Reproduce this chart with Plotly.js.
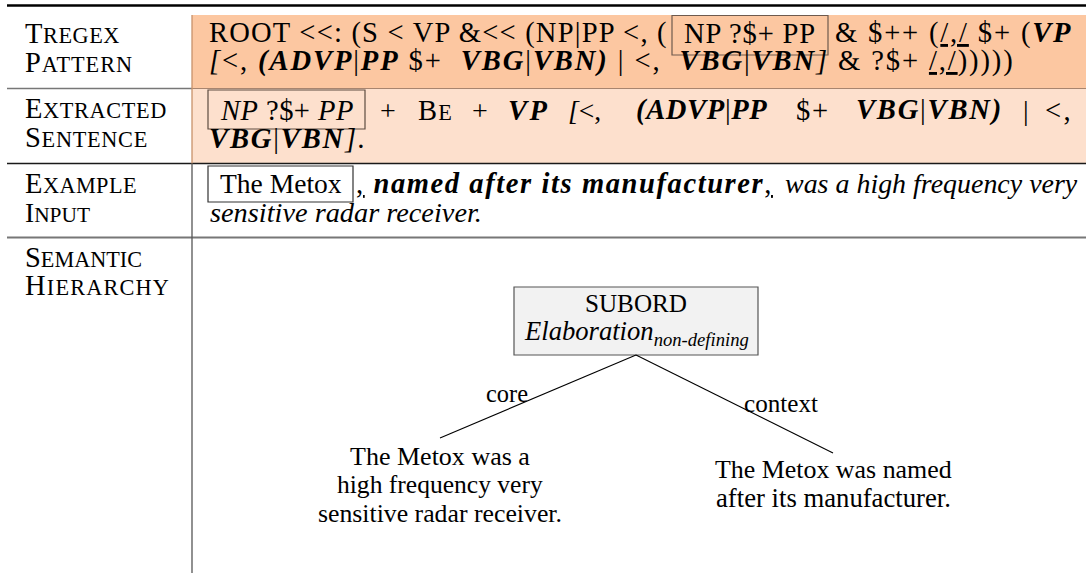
<!DOCTYPE html>
<html>
<head>
<meta charset="utf-8">
<script src="https://cdn.plot.ly/plotly-3.0.1.min.js"></script>
<style>
html,body{margin:0;padding:0;background:#ffffff;overflow:hidden;}
#chart{width:1086px;height:576px;}
</style>
</head>
<body>
<div id="chart"></div>
<script>
// ---------------- content (text of the table / tree) ----------------
const rowLabels = [["Tregex", "Pattern"], ["Extracted", "Sentence"], ["Example", "Input"], ["Semantic", "Hierarchy"]];

const patternLine1 = [
  "ROOT &lt;&lt;: (S &lt; VP &amp;&lt;&lt; (NP|PP &lt;, (",
  "NP ?$+ PP",
  "&amp; $++ (<u>/,/</u> $+ (<b><i>VP</i></b>"
];
const patternLine2 = "<i>[</i>&lt;, <b><i>(ADVP</i></b>|<b><i>PP</i></b> $+&nbsp; <b><i>VBG</i></b>|<b><i>VBN)</i></b> | &lt;,&nbsp; <b><i>VBG</i></b>|<b><i>VBN</i></b><i>]</i> &amp; ?$+ <u>/,/</u>)))))";

const extractedBox = "<i>NP</i> ?$+ <i>PP</i>";
const extractedLine1 = [
  "+", "B<span style=\"font-size:78%\">E</span>", "+", "<b><i>VP</i></b>", "<i>[</i>&lt;,",
  "<b><i>(ADVP</i></b>|<b><i>PP</i></b>", "$+", "<b><i>VBG</i></b>|<b><i>VBN)</i></b>", "|", "&lt;,"
];
const extractedLine2 = "<b><i>VBG</i></b>|<b><i>VBN</i></b><i>].</i>";

const exampleBox = "The Metox";
const exampleLine1 = ["<u>,</u> <b><i>named after its manufacturer</i></b><u>,</u>", "<i>was a high frequency very</i>"];
const exampleLine2 = "<i>sensitive radar receiver.</i>";

const treeRoot = ["SUBORD", "<i>Elaboration</i><sub><i>non-defining</i></sub>"];
const treeEdgeLabels = ["core", "context"];
const treeLeaves = [
  ["The Metox was a", "high frequency very", "sensitive radar receiver."],
  ["The Metox was named", "after its manufacturer."]
];

// ---------------- geometry / style (layout constants) ----------------
const FONT = "Liberation Serif, Times New Roman, serif";
const S0 = 25.5;

const labelX = 25;
const labelBase = [[43, 72], [118, 147], [193, 222], [267, 295]];
const labelW = [[95, 108], [142, 123], [112, 65], [117, 145]];

const p1X = [209, 750, 835], p1W = [459, 132, 238], p1A = ["left", "center", "left"];
const e1X = [380, 418, 472, 508, 568, 636, 796, 856, 1023, 1045];
const e1W = [0, 35, 0, 42, 0, 132, 34, 147, 0, 28];
const e1S = [28, 25.5, 28, 25.5, 27.5, 25.5, 25.5, 25.5, 28, 25.5];
const x1X = [356, 785], x1W = [417, 293];
const leafX = [440, 833];
const leafBase = [[465, 493, 522], [478, 507]];
const leafW = [[180, 206, 244], [237, 235]];

function smallCaps(word) {
  return word.charAt(0).toUpperCase() +
    '<span style="font-size:78%">' + word.slice(1).toUpperCase() + '</span>';
}

// ---------------- build text segments ----------------
const segs = [];
rowLabels.forEach(function (words, r) {
  words.forEach(function (w, l) {
    segs.push({t: smallCaps(w), x: labelX, base: labelBase[r][l], w: labelW[r][l], a: "left"});
  });
});
patternLine1.forEach(function (t, i) {
  segs.push({t: t, x: p1X[i], base: 43, w: p1W[i], a: p1A[i]});
});
segs.push({t: patternLine2, x: 209, base: 71, w: 806, a: "left"});
segs.push({t: extractedBox, x: 286.5, base: 120, w: 134, a: "center"});
extractedLine1.forEach(function (t, i) {
  segs.push({t: t, x: e1X[i], base: 120, w: e1W[i], a: "left", s: e1S[i]});
});
segs.push({t: extractedLine2, x: 209, base: 148, w: 158, a: "left"});
segs.push({t: exampleBox, x: 280.5, base: 193, w: 122, a: "center"});
exampleLine1.forEach(function (t, i) {
  segs.push({t: t, x: x1X[i], base: 193, w: x1W[i], a: "left"});
});
segs.push({t: exampleLine2, x: 210, base: 222, w: 272, a: "left"});
segs.push({t: treeRoot[0], x: 636, base: 312, w: 102, a: "center"});
segs.push({t: treeRoot[1], x: 636, base: 340, w: 225, a: "center", sub: true});
segs.push({t: treeEdgeLabels[0], x: 507, base: 402, w: 42, a: "center"});
segs.push({t: treeEdgeLabels[1], x: 781, base: 412, w: 74, a: "center"});
treeLeaves.forEach(function (lines, k) {
  lines.forEach(function (t, j) {
    segs.push({t: t, x: leafX[k], base: leafBase[k][j], w: leafW[k][j], a: "center"});
  });
});

function yFor(s, size) {
  return s.base - 0.3375 * size + (s.sub ? 0.072 * size : 0);
}

const annotations = segs.map(function (s) {
  const size = s.s || S0;
  return {
    xref: "x", yref: "y", x: s.x, y: yFor(s, size),
    xanchor: s.a, yanchor: "middle",
    text: s.t, showarrow: false,
    font: {family: FONT, size: size, color: "#000000"},
    borderpad: 0, borderwidth: 0
  };
});

// ---------------- shapes ----------------
function rect(x0, x1, y0, y1, fill, line, lw, layer) {
  return {type: "rect", xref: "x", yref: "y", x0: x0, x1: x1, y0: y0, y1: y1,
    fillcolor: fill, line: {color: line, width: lw}, layer: layer || "below"};
}
function seg(x0, y0, x1, y1, color, w) {
  return {type: "line", xref: "x", yref: "y", x0: x0, y0: y0, x1: x1, y1: y1,
    line: {color: color, width: w}, layer: "above"};
}
const shapes = [
  rect(192, 1086, 15, 88.5, "#FCC7A1", "rgba(0,0,0,0)", 0),
  rect(192, 1086, 88.5, 163.5, "#FDE0CD", "rgba(0,0,0,0)", 0),
  rect(514, 758, 287, 355, "#F2F2F2", "#555555", 1.2),
  rect(672, 828, 15.5, 55, "rgba(0,0,0,0)", "#6E5A4E", 1.2, "above"),
  rect(208, 365, 90, 129, "rgba(0,0,0,0)", "#5E4C42", 1.2, "above"),
  rect(208, 353, 166, 202, "rgba(0,0,0,0)", "#333333", 1.2, "above"),
  seg(7, 5.5, 1086, 5.5, "#000000", 2.6),
  seg(7, 88.5, 192, 88.5, "#777777", 1.3),
  seg(192, 88.5, 1086, 88.5, "#A8856F", 1.2),
  seg(7, 163.5, 1086, 163.5, "#1A1A1A", 1.3),
  seg(7, 237.5, 1086, 237.5, "#777777", 2),
  seg(192, 15, 192, 163.5, "#C8916A", 1.3),
  seg(192, 163.5, 192, 573, "#555555", 1.3),
  seg(636, 355, 440, 438, "#000000", 1.1),
  seg(636, 355, 833, 453, "#000000", 1.1)
];

const layout = {
  width: 1086, height: 576,
  margin: {l: 0, r: 0, t: 0, b: 0, pad: 0},
  paper_bgcolor: "#ffffff", plot_bgcolor: "#ffffff",
  showlegend: false,
  xaxis: {range: [0, 1086], visible: false, fixedrange: true},
  yaxis: {range: [576, 0], visible: false, fixedrange: true},
  shapes: shapes,
  annotations: annotations
};

function plainLen(t) {
  return t.replace(/<[^>]*>/g, "").replace(/&[a-z]+;/g, "x").length;
}

const gd = document.getElementById("chart");
Plotly.newPlot(gd, [], layout, {staticPlot: true, displayModeBar: false}).then(function () {
  const upd = {};
  const groups = gd.querySelectorAll(".annotation");
  segs.forEach(function (s, i) {
    if (!s.w) return;
    const g = gd.querySelector('.annotation[data-index="' + i + '"]') || groups[i];
    if (!g) return;
    const el = g.querySelector(".annotation-text");
    if (!el) return;
    const bw = el.getBBox().width;
    if (!bw) return;
    const s0 = s.s || S0;
    const k = Math.max(0.92, Math.min(1.12, s.w / bw));
    const size = s0 * k;
    const n = plainLen(s.t);
    const ls = (s.w - bw * k) / n;
    let text = s.t;
    if (Math.abs(ls) > 0.05) {
      text = '<span style="letter-spacing:' + ls.toFixed(2) + 'px">' + s.t + '</span>';
    }
    upd["annotations[" + i + "].font.size"] = size;
    upd["annotations[" + i + "].y"] = yFor(s, size);
    upd["annotations[" + i + "].text"] = text;
  });
  return Plotly.relayout(gd, upd);
});
</script>
</body>
</html>
